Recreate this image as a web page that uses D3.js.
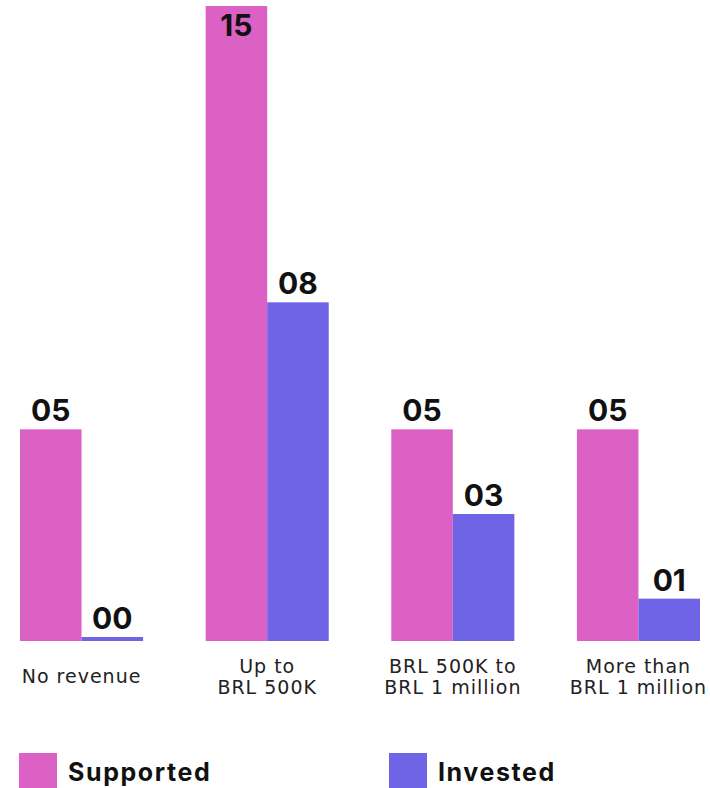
<!DOCTYPE html>
<html>
<head>
<meta charset="utf-8">
<script src="https://cdn.jsdelivr.net/npm/d3@7"></script>
<style>
  html, body { margin: 0; padding: 0; background: #fff; }
  svg { display: block; }
</style>
</head>
<body>
<svg id="chart" width="710" height="788"></svg>
<script>
// ---- data ----
const categories = [["No revenue"], ["Up to", "BRL 500K"], ["BRL 500K to", "BRL 1 million"], ["More than", "BRL 1 million"]];
const seriesNames = ["Supported", "Invested"];
const supported = [5, 15, 5, 5];
const invested = [0, 8, 3, 1];
const supportedLabels = ["05", "15", "05", "05"];
const investedLabels = ["00", "08", "03", "01"];
const colors = ["#DB62C4", "#6F63E6"];

(function () {
// ---- layout ----
const plotLeft = 20, plotRight = 700, baseline = 641, plotTop = 6;
const svg = d3.select("#chart");

const x = d3.scaleBand().domain(d3.range(categories.length)).range([plotLeft, plotRight]).paddingInner(0.337).paddingOuter(0);
const xs = d3.scaleBand().domain([0, 1]).range([0, x.bandwidth()]).padding(0);
const y = d3.scaleLinear().domain([0, 15]).range([baseline, plotTop]);

const rows = [];
categories.forEach((c, i) => {
  rows.push({ g: i, s: 0, v: supported[i], lab: supportedLabels[i] });
  rows.push({ g: i, s: 1, v: invested[i], lab: investedLabels[i] });
});

const minH = 4;
const barTop = d => Math.min(y(d.v), baseline - minH);

svg.append("g").selectAll("rect").data(rows).join("rect")
  .attr("x", d => x(d.g) + xs(d.s))
  .attr("y", d => barTop(d))
  .attr("width", xs.bandwidth())
  .attr("height", d => baseline - barTop(d))
  .attr("fill", d => colors[d.s]);

const valueFont = "'Inter', 'DejaVu Sans', sans-serif";
svg.append("g").selectAll("text").data(rows).join("text")
  .attr("x", d => x(d.g) + xs(d.s) + xs.bandwidth() / 2)
  .attr("y", d => Math.max(barTop(d) - 8, 36))
  .attr("text-anchor", "middle")
  .attr("font-family", valueFont)
  .attr("font-weight", 700)
  .attr("font-size", 30)
  .attr("letter-spacing", "0px")
  .attr("fill", "#111")
  .text(d => d.lab);

// category labels
const catG = svg.append("g");
categories.forEach((lines, i) => {
  const cx = x(i) + x.bandwidth() / 2;
  const lh = 21;
  const y0 = 683 - (lines.length - 1) * lh / 2;
  const t = catG.append("text")
    .attr("text-anchor", "middle")
    .attr("font-family", "'DejaVu Sans', sans-serif")
    .attr("font-size", 19)
    .attr("letter-spacing", "1px")
    .attr("fill", "#222");
  lines.forEach((ln, k) => {
    t.append("tspan").attr("x", cx).attr("y", y0 + k * lh).text(ln);
  });
});

// legend
const legendX = [19, 389];
const lg = svg.append("g");
seriesNames.forEach((name, i) => {
  lg.append("rect").attr("x", legendX[i]).attr("y", 753).attr("width", 38).attr("height", 38).attr("fill", colors[i]);
  lg.append("text").attr("x", legendX[i] + 49).attr("y", 781)
    .attr("font-family", valueFont).attr("font-weight", 700).attr("font-size", 25)
    .attr("letter-spacing", "1.6px")
    .attr("fill", "#111").text(name);
});
})();
</script>
</body>
</html>
